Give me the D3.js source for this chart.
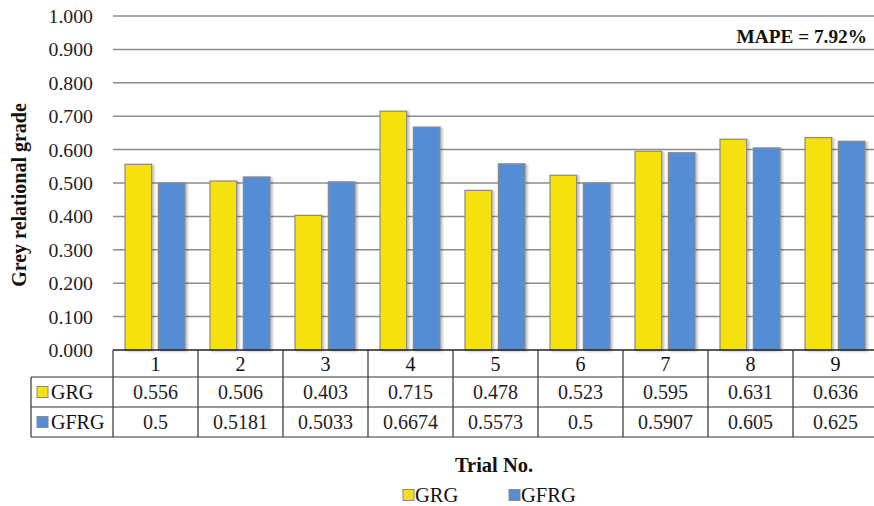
<!DOCTYPE html>
<html>
<head>
<meta charset="utf-8">
<script src="https://cdn.jsdelivr.net/npm/d3@7"></script>
<style>
  html, body { margin: 0; padding: 0; background: #fff; }
  text { font-family: 'Liberation Serif', 'Times New Roman', serif; }
</style>
</head>
<body>
<svg id="chart" width="874" height="506"></svg>
<script>
// Trial numbers and the two grade series
const trials = ["1", "2", "3", "4", "5", "6", "7", "8", "9"];
const seriesNames = ["GRG", "GFRG"];
const grg  = [0.556, 0.506, 0.403, 0.715, 0.478, 0.523, 0.595, 0.631, 0.636];
const gfrg = [0.5, 0.5181, 0.5033, 0.6674, 0.5573, 0.5, 0.5907, 0.605, 0.625];
const yTicks = [0, 0.1, 0.2, 0.3, 0.4, 0.5, 0.6, 0.7, 0.8, 0.9, 1.0];
const annotation = "MAPE = 7.92%";

const colors = { GRG: "#F5E10F", GFRG: "#548DD4" };
const values = { GRG: grg, GFRG: gfrg };

const svg = d3.select("#chart");

const plot = { left: 113, right: 878, top: 16, bottom: 350 };
const table = { left: 31, rowH: [27, 30, 30] };

const x = d3.scaleBand().domain(trials).range([plot.left, plot.right]).paddingInner(0).paddingOuter(0);
const xSub = d3.scaleBand().domain(seriesNames).range([12, 72]).paddingInner(0.2);
const y = d3.scaleLinear().domain([0, 1]).range([plot.bottom, plot.top]);

// soft shadow under bars
const defs = svg.append("defs");
const f = defs.append("filter").attr("id", "shadow").attr("x", "-20%").attr("y", "-5%").attr("width", "150%").attr("height", "115%");
f.append("feDropShadow").attr("dx", 2).attr("dy", 1).attr("stdDeviation", 1.2).attr("flood-color", "#000").attr("flood-opacity", 0.25);

// gridlines
svg.append("g")
  .selectAll("line")
  .data(yTicks.filter(d => d > 0))
  .join("line")
  .attr("x1", plot.left).attr("x2", plot.right)
  .attr("y1", d => y(d)).attr("y2", d => y(d))
  .attr("stroke", "#8c8c8c").attr("stroke-width", 1.5);

// y tick labels
svg.append("g")
  .selectAll("text")
  .data(yTicks)
  .join("text")
  .attr("x", 93).attr("y", d => y(d))
  .attr("dy", "0.35em")
  .attr("text-anchor", "end")
  .attr("font-size", 19.8)
  .attr("fill", "#222")
  .text(d => d3.format(".3f")(d));

// bars
const groups = svg.append("g")
  .selectAll("g")
  .data(trials)
  .join("g")
  .attr("transform", d => `translate(${x(d)},0)`);

groups.selectAll("rect")
  .data((d, i) => seriesNames.map(s => ({ s, v: values[s][i] })))
  .join("rect")
  .attr("x", d => xSub(d.s))
  .attr("width", xSub.bandwidth())
  .attr("y", d => y(d.v))
  .attr("height", d => y(0) - y(d.v))
  .attr("fill", d => colors[d.s])
  .attr("stroke", "#8a8a8a")
  .attr("stroke-width", 1.2)
  .attr("filter", "url(#shadow)");

// axis baseline
svg.append("line")
  .attr("x1", plot.left).attr("x2", plot.right)
  .attr("y1", plot.bottom).attr("y2", plot.bottom)
  .attr("stroke", "#222").attr("stroke-width", 1.5);

// data table
const rowTop = [plot.bottom, plot.bottom + table.rowH[0], plot.bottom + table.rowH[0] + table.rowH[1]];
const tableBottom = rowTop[2] + table.rowH[2];
const tg = svg.append("g").attr("stroke", "#333").attr("stroke-width", 1.2);

// horizontal rules
tg.append("line").attr("x1", table.left).attr("x2", plot.right).attr("y1", rowTop[1]).attr("y2", rowTop[1]);
tg.append("line").attr("x1", table.left).attr("x2", plot.right).attr("y1", rowTop[2]).attr("y2", rowTop[2]);
tg.append("line").attr("x1", table.left).attr("x2", plot.right).attr("y1", tableBottom).attr("y2", tableBottom);
// left edge of series-name column
tg.append("line").attr("x1", table.left).attr("x2", table.left).attr("y1", rowTop[1]).attr("y2", tableBottom);
// column separators
tg.selectAll("line.col")
  .data(trials)
  .join("line")
  .attr("class", "col")
  .attr("x1", d => x(d)).attr("x2", d => x(d))
  .attr("y1", plot.bottom).attr("y2", tableBottom);

// category labels
svg.append("g")
  .selectAll("text")
  .data(trials)
  .join("text")
  .attr("x", d => x(d) + x.bandwidth() / 2)
  .attr("y", rowTop[0] + table.rowH[0] / 2)
  .attr("dy", "0.36em")
  .attr("text-anchor", "middle")
  .attr("font-size", 20)
  .attr("fill", "#111")
  .text(d => d);

// series rows
seriesNames.forEach((s, r) => {
  const top = rowTop[r + 1];
  const h = table.rowH[r + 1];
  const row = svg.append("g");
  row.append("rect")
    .attr("x", 37).attr("y", top + h / 2 - 5.5)
    .attr("width", 11).attr("height", 11)
    .attr("fill", colors[s]).attr("stroke", "#8a8a8a").attr("stroke-width", 1);
  row.append("text")
    .attr("x", 51).attr("y", top + h / 2).attr("dy", "0.36em")
    .attr("font-size", 20).attr("fill", "#111")
    .text(s);
  row.selectAll("text.val")
    .data(trials)
    .join("text")
    .attr("class", "val")
    .attr("x", d => x(d) + x.bandwidth() / 2)
    .attr("y", top + h / 2).attr("dy", "0.36em")
    .attr("text-anchor", "middle")
    .attr("font-size", 20).attr("fill", "#222")
    .text((d, i) => String(values[s][i]));
});

// annotation
svg.append("text")
  .attr("x", 867).attr("y", 43)
  .attr("text-anchor", "end")
  .attr("font-size", 19.3).attr("font-weight", "bold").attr("fill", "#111")
  .text(annotation);

// axis titles
svg.append("text")
  .attr("transform", "translate(26,195) rotate(-90)")
  .attr("text-anchor", "middle")
  .attr("font-size", 20).attr("font-weight", "bold").attr("fill", "#111")
  .text("Grey relational grade");

svg.append("text")
  .attr("x", 494).attr("y", 472)
  .attr("text-anchor", "middle")
  .attr("font-size", 20.5).attr("font-weight", "bold").attr("fill", "#111")
  .text("Trial No.");

// legend
const legend = svg.append("g");
[{ s: "GRG", x: 403 }, { s: "GFRG", x: 509 }].forEach(d => {
  legend.append("rect")
    .attr("x", d.x).attr("y", 489.5).attr("width", 11).attr("height", 11)
    .attr("fill", colors[d.s]).attr("stroke", "#8a8a8a").attr("stroke-width", 1);
  legend.append("text")
    .attr("x", d.x + 12).attr("y", 495).attr("dy", "0.36em")
    .attr("font-size", 20.5).attr("fill", "#111")
    .text(d.s);
});
</script>
</body>
</html>
